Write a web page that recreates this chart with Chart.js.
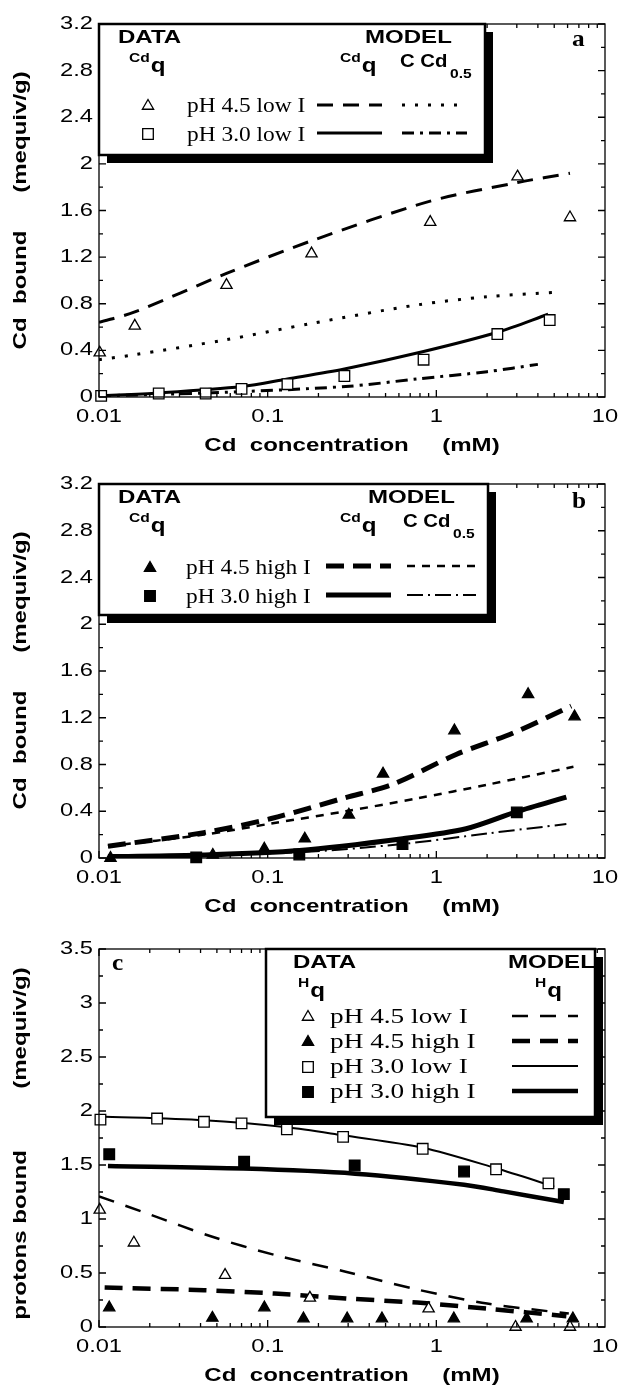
<!DOCTYPE html>
<html>
<head>
<meta charset="utf-8">
<script src="https://cdn.jsdelivr.net/npm/chart.js@4.4.0/dist/chart.umd.min.js"></script>
<style>
  body { margin: 0; background: #fff; }
  .panel { position: absolute; left: 0; width: 619px; height: 462px; }
</style>
</head>
<body>
<div class="panel" style="top:0"><canvas id="chartA"></canvas></div>
<div class="panel" style="top:462px"><canvas id="chartB"></canvas></div>
<div class="panel" style="top:924px"><canvas id="chartC"></canvas></div>
<script>
// ---- axis ticks ----
const ticksX = [0.01, 0.1, 1, 10];
const ticksXLabels = ['0.01', '0.1', '1', '10'];
const ticksYab = [0, 0.4, 0.8, 1.2, 1.6, 2, 2.4, 2.8, 3.2];
const ticksYabLabels = ['0', '0.4', '0.8', '1.2', '1.6', '2', '2.4', '2.8', '3.2'];
const ticksYc = [0, 0.5, 1, 1.5, 2, 2.5, 3, 3.5];
const ticksYcLabels = ['0', '0.5', '1', '1.5', '2', '2.5', '3', '3.5'];

// ---- panel a : Cd bound, low I ----
const aTri45X = [0.0101, 0.0163, 0.057, 0.182, 0.92, 3.03, 6.2];
const aTri45Y = [0.38, 0.61, 0.96, 1.23, 1.50, 1.89, 1.54];
const aSq30X = [0.0103, 0.0226, 0.0429, 0.070, 0.131, 0.285, 0.84, 2.30, 4.7];
const aSq30Y = [0.01, 0.03, 0.03, 0.07, 0.11, 0.18, 0.32, 0.54, 0.66];
const aQ45X = [0.01, 0.0163, 0.057, 0.182, 0.92, 3.03, 6.2];
const aQ45Y = [0.64, 0.73, 1.06, 1.34, 1.68, 1.84, 1.92];
const aC45X = [0.01, 0.0158, 0.056, 0.18, 0.77, 2.0, 5.3];
const aC45Y = [0.32, 0.36, 0.49, 0.63, 0.79, 0.86, 0.90];
const aQ30X = [0.01, 0.0226, 0.0704, 0.131, 0.285, 0.84, 2.30, 4.6];
const aQ30Y = [0.01, 0.035, 0.09, 0.155, 0.24, 0.39, 0.555, 0.71];
const aC30X = [0.01, 0.042, 0.29, 0.77, 2.0, 4.0];
const aC30Y = [0.01, 0.034, 0.09, 0.155, 0.217, 0.28];

// ---- panel b : Cd bound, high I ----
const bTri45X = [0.0117, 0.0473, 0.0955, 0.166, 0.303, 0.483, 1.28, 3.5, 6.6];
const bTri45Y = [0.0, 0.026, 0.078, 0.165, 0.37, 0.72, 1.09, 1.40, 1.21];
const bSq30X = [0.0377, 0.154, 0.63, 3.0];
const bSq30Y = [0.005, 0.03, 0.12, 0.39];
const bQ45X = [0.0113, 0.0418, 0.105, 0.29, 0.55, 1.31, 2.86, 6.3];
const bQ45Y = [0.10, 0.217, 0.338, 0.517, 0.63, 0.886, 1.07, 1.30];
const bC45X = [0.0113, 0.042, 0.105, 0.29, 0.77, 2.0, 6.5];
const bC45Y = [0.10, 0.20, 0.295, 0.40, 0.51, 0.627, 0.78];
const bQ30X = [0.0113, 0.0418, 0.154, 0.63, 1.5, 3.0, 5.9];
const bQ30Y = [0.012, 0.026, 0.064, 0.165, 0.25, 0.396, 0.52];
const bC30X = [0.0113, 0.154, 0.63, 2.0, 5.9];
const bC30Y = [0.01, 0.05, 0.12, 0.21, 0.29];

// ---- panel c : protons bound ----
const cSqLowX = [0.0102, 0.0221, 0.0419, 0.070, 0.130, 0.28, 0.83, 2.26, 4.62];
const cSqLowY = [1.92, 1.93, 1.90, 1.885, 1.83, 1.76, 1.65, 1.46, 1.33];
const cSqHighX = [0.0115, 0.0725, 0.328, 1.46, 5.7];
const cSqHighY = [1.60, 1.53, 1.495, 1.44, 1.23];
const cTriLowX = [0.0101, 0.0161, 0.0559, 0.178, 0.90, 2.95, 6.2];
const cTriLowY = [1.085, 0.78, 0.48, 0.27, 0.17, 0.0, 0.0];
const cTriHighX = [0.0115, 0.047, 0.0956, 0.163, 0.296, 0.476, 1.27, 3.43, 6.45];
const cTriHighY = [0.18, 0.084, 0.18, 0.078, 0.078, 0.078, 0.078, 0.078, 0.078];
const cM30LowX = [0.01, 0.042, 0.13, 0.28, 0.83, 2.26, 5.0];
const cM30LowY = [1.95, 1.915, 1.85, 1.775, 1.66, 1.47, 1.30];
const cM30HighX = [0.0113, 0.072, 0.33, 1.46, 2.5, 5.7];
const cM30HighY = [1.49, 1.467, 1.42, 1.318, 1.256, 1.157];
const cM45LowX = [0.01, 0.0202, 0.046, 0.11, 0.29, 0.77, 2.0, 6.1];
const cM45LowY = [1.21, 1.04, 0.84, 0.667, 0.512, 0.347, 0.217, 0.124];
const cM45HighX = [0.0108, 0.042, 0.11, 0.29, 0.77, 2.0, 5.9];
const cM45HighY = [0.366, 0.341, 0.31, 0.264, 0.226, 0.17, 0.10];

const SANS = '"Liberation Sans", Arial, Helvetica, sans-serif';
const SERIF = '"Liberation Serif", "Times New Roman", serif';
const SX = 1.3;   // the figure's lettering is set wide

// line styles (width, dash)
const ST = {
  aQ45: [3, [16, 10]], aC45: [3, [3, 10]], aQ30: [3, []], aC30: [3, [12, 6, 3, 6]],
  bQ45: [5, [18, 9]], bC45: [2.5, [8, 7]], bQ30: [5, []], bC30: [2, [16, 5, 2, 5]],
  cL45: [2.5, [16, 12]], cH45: [4.5, [18, 10]], cL30: [2, []], cH30: [4.5, []]
};

function pts(xs, ys) { return xs.map((x, i) => ({ x: x, y: ys[i] })); }

function markers(xs, ys, style, filled, r) {
  return {
    type: 'scatter', data: pts(xs, ys), pointStyle: style, pointRadius: r, pointHoverRadius: r,
    pointBackgroundColor: filled ? '#000' : '#fff', pointBorderColor: '#000', pointBorderWidth: 1.3,
    showLine: false, clip: false
  };
}
function curve(xs, ys, st) {
  return {
    type: 'line', data: pts(xs, ys), borderColor: '#000', borderWidth: st[0], borderDash: st[1],
    pointRadius: 0, tension: 0.3, fill: false, showLine: true
  };
}

// ---- text / legend helpers ----
function stxt(ctx, s, x, y, o) {
  ctx.save();
  ctx.translate(x, y);
  if (o.rot) ctx.rotate(o.rot);
  ctx.scale(o.sx || 1, 1);
  ctx.font = (o.bold ? 'bold ' : '') + o.size + 'px ' + (o.serif ? SERIF : SANS);
  ctx.fillStyle = '#000';
  ctx.textAlign = o.align || 'left';
  ctx.textBaseline = o.base || 'alphabetic';
  ctx.fillText(s, 0, 0);
  const w = ctx.measureText(s).width * (o.sx || 1);
  ctx.restore();
  return w;
}
function head(ctx, s, x, y) { return stxt(ctx, s, x, y, { size: 18.5, bold: true, sx: SX }); }
function supq(ctx, sup, x, y) {
  const w = stxt(ctx, sup, x, y - 10, { size: 12, bold: true, sx: SX });
  stxt(ctx, 'q', x + w + 1, y, { size: 21, bold: true, sx: 1.15 });
}
function marker(ctx, style, filled, x, y, r) {
  ctx.beginPath();
  if (style === 'triangle') {
    ctx.moveTo(x, y - r); ctx.lineTo(x + r * 0.866, y + r * 0.5); ctx.lineTo(x - r * 0.866, y + r * 0.5); ctx.closePath();
  } else {
    const h = r * 0.7071; ctx.rect(x - h, y - h, 2 * h, 2 * h);
  }
  ctx.fillStyle = filled ? '#000' : '#fff'; ctx.fill();
  ctx.lineWidth = 1.3; ctx.strokeStyle = '#000'; ctx.stroke();
}
function sample(ctx, x1, x2, y, st) {
  ctx.beginPath(); ctx.setLineDash(st[1]); ctx.lineWidth = st[0]; ctx.strokeStyle = '#000';
  ctx.moveTo(x1, y); ctx.lineTo(x2, y); ctx.stroke(); ctx.setLineDash([]);
}
function box(ctx, l, t, r, b) {
  ctx.fillStyle = '#000'; ctx.fillRect(l + 8, t + 8, r - l, b - t);
  ctx.fillStyle = '#fff'; ctx.fillRect(l, t, r - l, b - t);
  ctx.lineWidth = 2.5; ctx.strokeStyle = '#000'; ctx.strokeRect(l, t, r - l, b - t);
}

function legendA(ctx) {
  box(ctx, 99, 24, 485, 155);
  head(ctx, 'DATA', 118, 43);
  supq(ctx, 'Cd', 129, 72);
  head(ctx, 'MODEL', 365, 43);
  supq(ctx, 'Cd', 340, 72);
  stxt(ctx, 'C Cd', 400, 67, { size: 18.5, bold: true, sx: 1.1 });
  stxt(ctx, '0.5', 450, 78, { size: 12, bold: true, sx: SX });
  marker(ctx, 'triangle', false, 148, 106, 6.5);
  stxt(ctx, 'pH 4.5 low I', 187, 112, { size: 20, serif: true, sx: 1.17 });
  sample(ctx, 317, 382, 105, ST.aQ45);
  sample(ctx, 402, 467, 105, ST.aC45);
  marker(ctx, 'rect', false, 148, 134, 7.5);
  stxt(ctx, 'pH 3.0 low I', 187, 141, { size: 20, serif: true, sx: 1.17 });
  sample(ctx, 317, 382, 133, ST.aQ30);
  sample(ctx, 402, 467, 133, ST.aC30);
  stxt(ctx, 'a', 572, 46, { size: 23, bold: true, serif: true, sx: 1.1 });
}
function legendB(ctx) {
  box(ctx, 99, 22, 488, 153);
  head(ctx, 'DATA', 118, 41);
  supq(ctx, 'Cd', 129, 70);
  head(ctx, 'MODEL', 368, 41);
  supq(ctx, 'Cd', 340, 70);
  stxt(ctx, 'C Cd', 403, 65, { size: 18.5, bold: true, sx: 1.1 });
  stxt(ctx, '0.5', 453, 76, { size: 12, bold: true, sx: SX });
  marker(ctx, 'triangle', true, 150, 106, 6.5);
  stxt(ctx, 'pH 4.5 high I', 186, 112, { size: 20, serif: true, sx: 1.17 });
  sample(ctx, 326, 391, 104, ST.bQ45);
  sample(ctx, 407, 476, 104, ST.bC45);
  marker(ctx, 'rect', true, 150, 134, 7.5);
  stxt(ctx, 'pH 3.0 high I', 186, 141, { size: 20, serif: true, sx: 1.17 });
  sample(ctx, 326, 391, 133, ST.bQ30);
  sample(ctx, 407, 476, 133, ST.bC30);
  stxt(ctx, 'b', 572, 46, { size: 23, bold: true, serif: true, sx: 1.1 });
}
function legendC(ctx) {
  box(ctx, 266, 25, 595, 193);
  stxt(ctx, 'c', 112, 46, { size: 23, bold: true, serif: true, sx: 1.1 });
  head(ctx, 'DATA', 293, 44);
  supq(ctx, 'H', 298, 73);
  head(ctx, 'MODEL', 508, 44);
  supq(ctx, 'H', 535, 73);
  const rows = [
    ['triangle', false, 'pH 4.5 low I', ST.cL45, 92],
    ['triangle', true, 'pH 4.5 high I', ST.cH45, 117],
    ['rect', false, 'pH 3.0 low I', ST.cL30, 142],
    ['rect', true, 'pH 3.0 high I', ST.cH30, 167]
  ];
  rows.forEach(r => {
    marker(ctx, r[0], r[1], 308, r[4] + 1, r[0] === 'rect' ? 7.5 : 6.5);
    stxt(ctx, r[2], 330, r[4] + 7, { size: 22, serif: true, sx: 1.24 });
    sample(ctx, 512, 578, r[4], r[3]);
  });
}

// frame with inward ticks on four sides, tick labels, axis titles, legend
function panelPlugin(yTicks, yLabels, yMinor, yTitle, legend) {
  return {
    id: 'panel',
    afterDraw(chart) {
      const ctx = chart.ctx, a = chart.chartArea, x = chart.scales.x, y = chart.scales.y;
      ctx.save();
      ctx.strokeStyle = '#000'; ctx.lineWidth = 1.3;
      ctx.strokeRect(a.left, a.top, a.right - a.left, a.bottom - a.top);
      ctx.beginPath();
      for (let d = -2; d < 1; d++) {
        for (let m = 1; m < 10; m++) {
          const px = x.getPixelForValue(m * Math.pow(10, d));
          const len = m === 1 ? 7 : 4;
          ctx.moveTo(px, a.bottom); ctx.lineTo(px, a.bottom - len);
          ctx.moveTo(px, a.top); ctx.lineTo(px, a.top + len);
        }
      }
      const yMax = yTicks[yTicks.length - 1];
      for (let v = 0; v <= yMax + 1e-9; v += yMinor) {
        const py = y.getPixelForValue(v);
        const major = yTicks.some(t => Math.abs(t - v) < 1e-6);
        const len = major ? 7 : 4;
        ctx.moveTo(a.left, py); ctx.lineTo(a.left + len, py);
        ctx.moveTo(a.right, py); ctx.lineTo(a.right - len, py);
      }
      ctx.stroke();

      const tick = { size: 18.5, sx: 1.28, base: 'middle' };
      ticksX.forEach((v, i) => stxt(ctx, ticksXLabels[i], x.getPixelForValue(v), a.bottom + 20, Object.assign({ align: 'center' }, tick)));
      yTicks.forEach((v, i) => stxt(ctx, yLabels[i], a.left - 6, y.getPixelForValue(v), Object.assign({ align: 'right' }, tick)));
      stxt(ctx, 'Cd  concentration     (mM)', (a.left + a.right) / 2, a.bottom + 49,
        { size: 18.5, bold: true, sx: SX, align: 'center', base: 'middle' });
      yTitle.forEach(p => stxt(ctx, p[0], 21, p[1],
        { size: 18.5, bold: true, sx: SX, align: 'center', base: 'middle', rot: -Math.PI / 2 }));

      legend(ctx);
      ctx.restore();
    }
  };
}

function scaleOpts(yTicks, xHeight) {
  return {
    x: {
      type: 'logarithmic', min: 0.01, max: 10,
      grid: { display: false, drawTicks: false }, border: { display: false },
      afterBuildTicks: s => { s.ticks = ticksX.map(v => ({ value: v })); },
      afterFit: s => { s.height = xHeight; },
      ticks: { display: false }
    },
    y: {
      type: 'linear', min: 0, max: yTicks[yTicks.length - 1],
      grid: { display: false, drawTicks: false }, border: { display: false },
      afterBuildTicks: s => { s.ticks = yTicks.map(v => ({ value: v })); },
      afterFit: s => { s.width = 99; },
      ticks: { display: false }
    }
  };
}

function makeChart(id, datasets, top, xHeight, yTicks, yLabels, yMinor, yTitle, legend) {
  return new Chart(document.getElementById(id), {
    type: 'scatter',
    data: { datasets: datasets },
    options: {
      responsive: true, maintainAspectRatio: false, animation: false,
      layout: { padding: { top: top, right: 14, left: 0, bottom: 0 } },
      plugins: { legend: { display: false }, tooltip: { enabled: false } },
      scales: scaleOpts(yTicks, xHeight)
    },
    plugins: [panelPlugin(yTicks, yLabels, yMinor, yTitle, legend)]
  });
}

// panel a
makeChart('chartA', [
  markers(aTri45X, aTri45Y, 'triangle', false, 6.5),
  markers(aSq30X, aSq30Y, 'rect', false, 7.5),
  curve(aQ45X, aQ45Y, ST.aQ45),
  curve(aC45X, aC45Y, ST.aC45),
  curve(aQ30X, aQ30Y, ST.aQ30),
  curve(aC30X, aC30Y, ST.aC30)
], 24, 65, ticksYab, ticksYabLabels, 0.2, [['Cd  bound', 290], ['(mequiv/g)', 132]], legendA);

// panel b
makeChart('chartB', [
  markers(bTri45X, bTri45Y, 'triangle', true, 6.5),
  markers(bSq30X, bSq30Y, 'rect', true, 7.5),
  curve(bQ45X, bQ45Y, ST.bQ45),
  curve(bC45X, bC45Y, ST.bC45),
  curve(bQ30X, bQ30Y, ST.bQ30),
  curve(bC30X, bC30Y, ST.bC30)
], 22, 66, ticksYab, ticksYabLabels, 0.2, [['Cd  bound', 288], ['(mequiv/g)', 130]], legendB);

// panel c
makeChart('chartC', [
  markers(cSqLowX, cSqLowY, 'rect', false, 7.5),
  markers(cSqHighX, cSqHighY, 'rect', true, 7.5),
  markers(cTriLowX, cTriLowY, 'triangle', false, 6.5),
  markers(cTriHighX, cTriHighY, 'triangle', true, 6.5),
  curve(cM30LowX, cM30LowY, ST.cL30),
  curve(cM30HighX, cM30HighY, ST.cH30),
  curve(cM45LowX, cM45LowY, ST.cL45),
  curve(cM45HighX, cM45HighY, ST.cH45)
], 25, 59, ticksYc, ticksYcLabels, 0.25, [['protons bound', 311], ['(mequiv/g)', 104]], legendC);
</script>
</body>
</html>
